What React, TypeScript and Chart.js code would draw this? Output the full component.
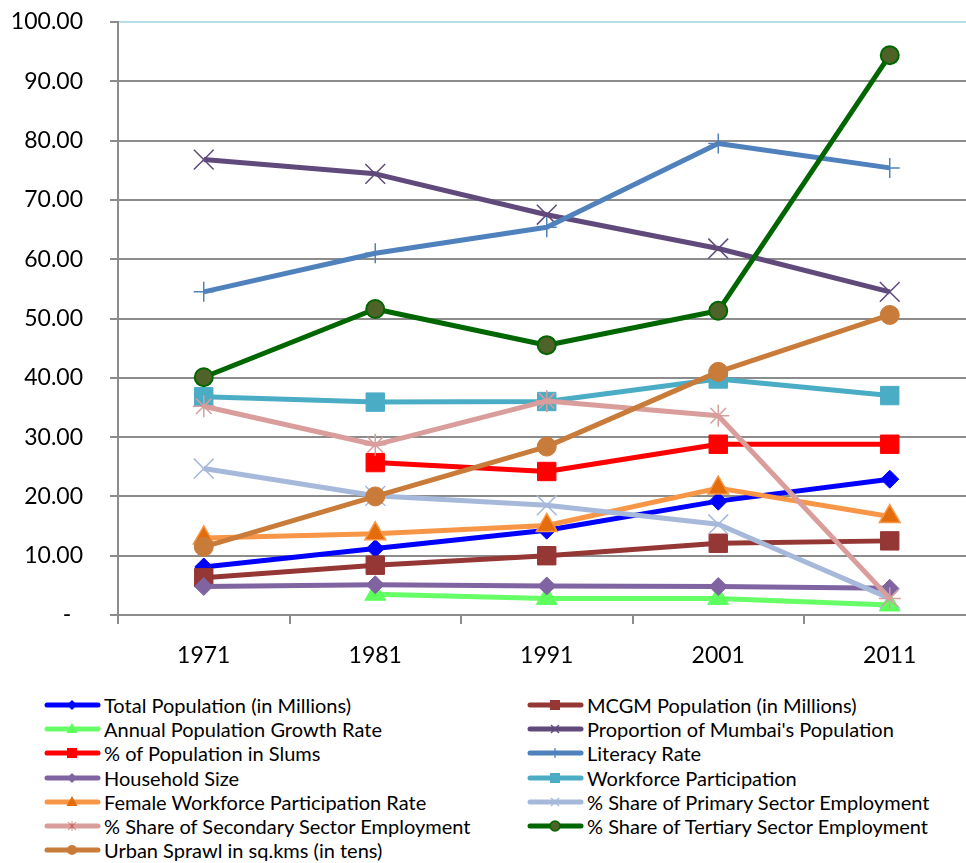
import React, { useEffect, useRef } from 'react';
import { Chart, registerables } from 'chart.js';

Chart.register(...registerables);

const years = ['1971', '1981', '1991', '2001', '2011'];
const yTicks = [0, 10, 20, 30, 40, 50, 60, 70, 80, 90, 100];

const totalPopulation = [8.1, 11.2, 14.3, 19.2, 22.9];
const mcgmPopulation = [6.3, 8.4, 10.0, 12.1, 12.5];
const annualGrowthRate = [null, 3.5, 2.8, 2.8, 1.7];
const proportionMumbai = [76.8, 74.4, 67.5, 61.8, 54.5];
const slumsPct = [null, 25.7, 24.2, 28.8, 28.8];
const literacyRate = [54.5, 61.0, 65.4, 79.5, 75.4];
const householdSize = [4.8, 5.1, 4.9, 4.8, 4.5];
const workforceParticipation = [36.8, 35.9, 36.0, 39.8, 37.0];
const femaleWorkforce = [13.0, 13.7, 15.1, 21.4, 16.6];
const primarySector = [24.7, 20.1, 18.5, 15.3, 2.8];
const secondarySector = [35.2, 28.7, 36.1, 33.6, 2.8];
const tertiarySector = [40.1, 51.6, 45.5, 51.3, 94.4];
const urbanSprawl = [11.5, 20.0, 28.4, 41.0, 50.6];

const labels = [
  'Total Population (in Millions)',
  'MCGM Population (in Millions)',
  'Annual Population Growth Rate',
  "Proportion of Mumbai's Population",
  '% of Population in Slums',
  'Literacy Rate',
  'Household Size',
  'Workforce Participation',
  'Female Workforce Participation Rate',
  '% Share of Primary Sector Employment',
  '% Share of Secondary Sector Employment',
  '% Share of Tertiary Sector Employment',
  'Urban Sprawl in sq.kms (in tens)',
];

type Sty = {
  line: string;
  fill: string;
  stroke: string;
  shape: string;
  radius: number;
  pbw: number;
};

const styles: Sty[] = [
  { line: '#0000FF', fill: '#0000FF', stroke: '#0000FF', shape: 'rectRot', radius: 9, pbw: 1 },
  { line: '#953735', fill: '#953735', stroke: '#953735', shape: 'rect', radius: 13, pbw: 1 },
  { line: '#66FF66', fill: '#5CFF5C', stroke: '#5CFF5C', shape: 'triangle', radius: 12, pbw: 1 },
  { line: '#604A7B', fill: '#604A7B', stroke: '#604A7B', shape: 'crossRot', radius: 14, pbw: 1.5 },
  { line: '#FF0000', fill: '#FF0000', stroke: '#FF0000', shape: 'rect', radius: 13, pbw: 1 },
  { line: '#4F81BD', fill: '#4F81BD', stroke: '#4F81BD', shape: 'cross', radius: 10, pbw: 1.5 },
  { line: '#8064A2', fill: '#8064A2', stroke: '#8064A2', shape: 'rectRot', radius: 9, pbw: 1 },
  { line: '#4BACC6', fill: '#4BACC6', stroke: '#4BACC6', shape: 'rect', radius: 13, pbw: 1 },
  { line: '#F79646', fill: '#E46C0A', stroke: '#F79646', shape: 'triangle', radius: 12, pbw: 1.5 },
  { line: '#A7B9DA', fill: '#A7B9DA', stroke: '#A7B9DA', shape: 'crossRot', radius: 14, pbw: 1.5 },
  { line: '#D99E9C', fill: '#D99E9C', stroke: '#D99E9C', shape: 'star', radius: 11, pbw: 1.5 },
  { line: '#006600', fill: '#4F6228', stroke: '#006600', shape: 'circle', radius: 9, pbw: 2 },
  { line: '#C97B3A', fill: '#C97B3A', stroke: '#C97B3A', shape: 'circle', radius: 9.5, pbw: 1 },
];

const seriesData = [
  totalPopulation,
  mcgmPopulation,
  annualGrowthRate,
  proportionMumbai,
  slumsPct,
  literacyRate,
  householdSize,
  workforceParticipation,
  femaleWorkforce,
  primarySector,
  secondarySector,
  tertiarySector,
  urbanSprawl,
];

const FONT = 'Lato, "Open Sans", sans-serif';

function LegendMarker({ s }: { s: Sty }) {
  const cx = 28;
  const cy = 9;
  const r = 5;
  let m: React.ReactNode = null;
  switch (s.shape) {
    case 'rectRot':
      m = <polygon points={`${cx},${cy - r} ${cx + r},${cy} ${cx},${cy + r} ${cx - r},${cy}`} fill={s.fill} />;
      break;
    case 'rect':
      m = <rect x={cx - 5} y={cy - 5} width={10} height={10} fill={s.fill} />;
      break;
    case 'triangle':
      m = <polygon points={`${cx},${cy - 6} ${cx + 5.5},${cy + 4} ${cx - 5.5},${cy + 4}`} fill={s.fill} />;
      break;
    case 'crossRot':
      m = (
        <g stroke={s.fill} strokeWidth={1.3}>
          <line x1={cx - 4} y1={cy - 4} x2={cx + 4} y2={cy + 4} />
          <line x1={cx - 4} y1={cy + 4} x2={cx + 4} y2={cy - 4} />
        </g>
      );
      break;
    case 'cross':
      m = (
        <g stroke={s.fill} strokeWidth={1.3}>
          <line x1={cx} y1={cy - 5} x2={cx} y2={cy + 5} />
        </g>
      );
      break;
    case 'star':
      m = (
        <g stroke="#C0504D" strokeOpacity={0.5} strokeWidth={1.2}>
          <line x1={cx - 4} y1={cy - 4} x2={cx + 4} y2={cy + 4} />
          <line x1={cx - 4} y1={cy + 4} x2={cx + 4} y2={cy - 4} />
          <line x1={cx} y1={cy - 5} x2={cx} y2={cy + 5} />
        </g>
      );
      break;
    case 'circle':
      m = <circle cx={cx} cy={cy} r={5} fill={s.fill} stroke={s.stroke} strokeWidth={s.pbw > 1.5 ? 1.5 : 0} />;
      break;
  }
  return (
    <svg width={57} height={18} style={{ display: 'block', flex: '0 0 auto' }}>
      <line x1={3} y1={cy} x2={54} y2={cy} stroke={s.line} strokeWidth={5} strokeLinecap="round" />
      {m}
    </svg>
  );
}

export default function App() {
  const canvasRef = useRef<HTMLCanvasElement | null>(null);

  useEffect(() => {
    const canvas = canvasRef.current;
    if (!canvas) return;
    const n = seriesData.length;
    const datasets = seriesData.map((d, i) => {
      const s = styles[i];
      return {
        label: labels[i],
        data: d,
        borderColor: s.line,
        backgroundColor: s.fill,
        borderWidth: 5,
        pointStyle: s.shape,
        pointRadius: s.radius,
        pointHoverRadius: s.radius,
        pointBackgroundColor: s.fill,
        pointBorderColor: s.stroke,
        pointBorderWidth: s.pbw,
        tension: 0,
        spanGaps: false,
        order: n - i,
        borderJoinStyle: 'round' as const,
      };
    });

    const chart = new Chart(canvas, {
      type: 'line',
      data: { labels: years, datasets },
      options: {
        responsive: false,
        maintainAspectRatio: false,
        animation: false,
        devicePixelRatio: 1,
        layout: { padding: { top: 22, right: 6, bottom: 0, left: 0 } },
        plugins: {
          legend: { display: false },
          tooltip: { enabled: false },
        },
        scales: {
          x: {
            type: 'category',
            offset: true,
            grid: {
              offset: true,
              drawOnChartArea: false,
              drawTicks: true,
              tickLength: 9,
              color: '#8C8C8C',
              lineWidth: 2,
            },
            border: { display: true, color: '#8C8C8C', width: 2 },
            ticks: {
              font: { family: FONT, size: 23 },
              color: '#000',
              padding: 18,
              maxRotation: 0,
              autoSkip: false,
            },
            afterFit: (scale: any) => {
              scale.height = 65;
            },
          },
          y: {
            type: 'linear',
            min: 0,
            max: 100,
            afterBuildTicks: (scale: any) => {
              scale.ticks = yTicks.map((v) => ({ value: v }));
            },
            grid: {
              drawTicks: true,
              tickLength: 8,
              lineWidth: 2,
              color: (ctx: any) => (ctx.tick && ctx.tick.value === 100 ? '#B7DDE8' : '#8C8C8C'),
              tickColor: '#8C8C8C',
            },
            border: { display: true, color: '#8C8C8C', width: 2 },
            ticks: {
              font: { family: FONT, size: 23 },
              color: '#000',
              padding: 27,
              callback: (v: any) => (Number(v) === 0 ? '-  ' : Number(v).toFixed(2)),
            },
            afterFit: (scale: any) => {
              scale.width = 118;
              scale.paddingTop = 12;
              scale.paddingBottom = 12;
            },
          },
        },
      },
    });
    return () => chart.destroy();
  }, []);

  const rowY = (r: number) => 705 + r * 24.2;

  return (
    <div
      style={{
        position: 'fixed',
        left: 0,
        top: 0,
        width: 966,
        height: 863,
        overflow: 'hidden',
        background: '#fff',
      }}
    >
      <canvas ref={canvasRef} width={991} height={680} style={{ display: 'block', width: 991, height: 680 }} />
      {labels.map((lab, i) => {
        const col = i % 2;
        const row = Math.floor(i / 2);
        const left = col === 0 ? 44 : 527;
        return (
          <div
            key={lab}
            style={{
              position: 'absolute',
              left,
              top: rowY(row) - 11,
              height: 22,
              display: 'flex',
              alignItems: 'center',
              whiteSpace: 'nowrap',
              fontFamily: FONT,
              fontSize: 20,
              color: '#000',
            }}
          >
            <LegendMarker s={styles[i]} />
            <span style={{ marginLeft: 3, lineHeight: '22px' }}>{lab}</span>
          </div>
        );
      })}
    </div>
  );
}
